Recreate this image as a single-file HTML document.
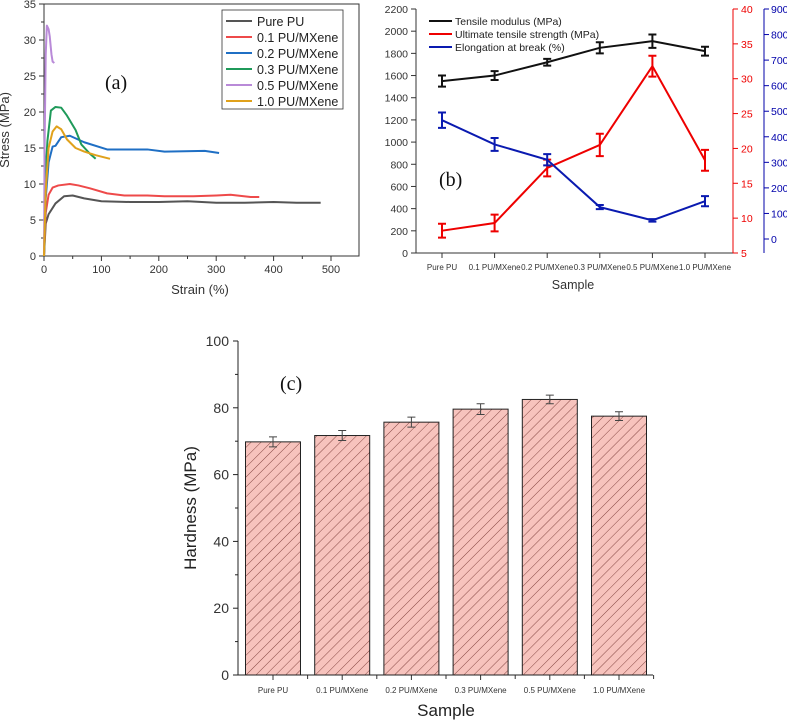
<!DOCTYPE html>
<html><head><meta charset="utf-8">
<style>
body{margin:0;background:#fff;}
svg{display:block;font-family:"Liberation Sans",sans-serif;}
</style></head>
<body>
<svg id="root" width="787" height="721" viewBox="0 0 787 721" xmlns="http://www.w3.org/2000/svg">
<defs>
<pattern id="hatch" patternUnits="userSpaceOnUse" width="7" height="7" patternTransform="rotate(45)">
<rect width="7" height="7" fill="#f7c3bd"/>
<line x1="0" y1="0" x2="0" y2="7" stroke="#7a3a36" stroke-width="0.9"/>
</pattern>
</defs>
<g id="pa"></g>
<g id="pb"></g>
<g id="pc"></g>
</svg>
<script>
// ---------- Panel (a) data ----------
const aNames = ["Pure PU","0.1 PU/MXene","0.2 PU/MXene","0.3 PU/MXene","0.5 PU/MXene","1.0 PU/MXene"];
const aColors = ["#555555","#ee4a4a","#1f6fc4","#1f9a5a","#b98ad8","#e0a11b"];
const aStrain0 = [0,3,8,20,35,50,70,100,150,200,250,300,350,400,440,482];
const aStress0 = [0,4.5,5.8,7.3,8.3,8.4,8,7.6,7.5,7.5,7.6,7.4,7.4,7.5,7.4,7.4];
const aStrain1 = [0,3,8,15,25,45,60,80,110,140,180,210,260,300,325,360,375];
const aStress1 = [0,6,8.5,9.5,9.8,10,9.8,9.4,8.7,8.4,8.4,8.3,8.3,8.4,8.5,8.2,8.2];
const aStrain2 = [0,3,8,15,20,30,45,70,110,180,210,280,305];
const aStress2 = [0,8,13,15.2,15.3,16.5,16.7,15.8,14.8,14.8,14.5,14.6,14.3];
const aStrain3 = [0,3,6,12,20,30,40,55,65,80,90];
const aStress3 = [0,12,16,20.2,20.7,20.6,19.5,17.5,15.5,14.2,13.5];
const aStrain4 = [0,1,3,5,8,10,13,15,18];
const aStress4 = [0,15,28,32,31.5,30.5,28,27,26.8];
const aStrain5 = [0,3,8,15,22,30,40,55,70,90,115];
const aStress5 = [0,9,15,17.3,18,17.6,16.2,15,14.5,14,13.5];
const aXTicks = [0,100,200,300,400,500];
const aYTicks = [0,5,10,15,20,25,30,35];
// ---------- Panel (b) data ----------
const bCats = ["Pure PU","0.1 PU/MXene","0.2 PU/MXene","0.3 PU/MXene","0.5 PU/MXene","1.0 PU/MXene"];
const bModulus = [1550,1600,1720,1850,1910,1820];
const bModulusErr = [50,40,30,50,60,40];
const bUTS = [8.2,9.3,17.2,20.5,31.8,18.3];
const bUTSErr = [1,1.2,1.2,1.6,1.5,1.5];
const bElong = [465,370,310,125,73,148];
const bElongErr = [30,25,22,8,5,20];
const bLeftTicks = [0,200,400,600,800,1000,1200,1400,1600,1800,2000,2200];
const bRedTicks = [5,10,15,20,25,30,35,40];
const bBlueTicks = [0,100,200,300,400,500,600,700,800,900];
// ---------- Panel (c) data ----------
const cCats = ["Pure PU","0.1 PU/MXene","0.2 PU/MXene","0.3 PU/MXene","0.5 PU/MXene","1.0 PU/MXene"];
const cHard = [69.8,71.7,75.7,79.6,82.5,77.5];
const cErr = [1.5,1.5,1.5,1.6,1.3,1.3];
const cYTicks = [0,20,40,60,80,100];

const NS="http://www.w3.org/2000/svg";
function mk(parent,tag,attrs,text){const e=document.createElementNS(NS,tag);for(const k in attrs)e.setAttribute(k,attrs[k]);if(text!==undefined)e.textContent=text;parent.appendChild(e);return e;}

// ===== Panel A =====
(function(){
const g=document.getElementById('pa');
const x=v=>44+v*(331-44)/500, y=v=>256-v*(256-4)/35;
const strains=[aStrain0,aStrain1,aStrain2,aStrain3,aStrain4,aStrain5];
const stresses=[aStress0,aStress1,aStress2,aStress3,aStress4,aStress5];
const frame=mk(g,'rect',{x:44,y:4,width:315,height:252,fill:'none',stroke:'#333','stroke-width':1});


aXTicks.forEach(t=>{mk(g,'line',{x1:x(t),x2:x(t),y1:256,y2:261,stroke:'#333'});
 if(x(t+50)<359) mk(g,'line',{x1:x(t+50),x2:x(t+50),y1:256,y2:259,stroke:'#333'});
 const l=mk(g,'text',{x:x(t),y:273,'font-size':11,'text-anchor':'middle',fill:'#333'},t);
 });
aYTicks.forEach(t=>{mk(g,'line',{x1:39,x2:44,y1:y(t),y2:y(t),stroke:'#333'});
 if(t<35) mk(g,'line',{x1:41,x2:44,y1:y(t+2.5),y2:y(t+2.5),stroke:'#333'});
 const l=mk(g,'text',{x:36,y:y(t)+4,'font-size':11,'text-anchor':'end',fill:'#333'},t);
 });
const xt=mk(g,'text',{x:200,y:294,'font-size':13,'text-anchor':'middle',fill:'#333'},'Strain (%)');

const yt=mk(g,'text',{x:9,y:130,'font-size':13,'text-anchor':'middle',fill:'#333',transform:'rotate(-90 9 130)'},'Stress (MPa)');

strains.forEach((s,i)=>{
 const p=mk(g,'polyline',{points:s.map((v,j)=>x(v)+','+y(stresses[i][j])).join(' '),fill:'none',stroke:aColors[i],'stroke-width':2,'stroke-linejoin':'round'});
 
 
});
const lg=mk(g,'g',{});

mk(lg,'rect',{x:222,y:10,width:121,height:99,fill:'#fff',stroke:'#333','stroke-width':0.8});
aNames.forEach((n,i)=>{const yy=21+i*16;
 mk(lg,'line',{x1:226,x2:252,y1:yy,y2:yy,stroke:aColors[i],'stroke-width':2});
 const t=mk(lg,'text',{x:257,y:yy+5,'font-size':12.5,fill:'#222'},n);
 });
const pl=mk(g,'text',{x:105,y:89,'font-size':20,'font-family':'Liberation Serif, serif',fill:'#111'},'(a)');

})();

// ===== Panel B =====
(function(){
const g=document.getElementById('pb');
const cx=i=>442+i*52.6;
const yL=v=>253-v*(253-9)/2200, yR=v=>253-(v-5)*(253-9)/35, yB=v=>239-v*(239-9)/900;
mk(g,'line',{x1:416,x2:416,y1:9,y2:253,stroke:'#333'});
mk(g,'line',{x1:416,x2:733,y1:253,y2:253,stroke:'#333'});
mk(g,'line',{x1:733,x2:733,y1:9,y2:253,stroke:'#e00'});
mk(g,'line',{x1:764,x2:764,y1:9,y2:253,stroke:'#00a'});
bLeftTicks.forEach(t=>{mk(g,'line',{x1:411,x2:416,y1:yL(t),y2:yL(t),stroke:'#333'});
 const l=mk(g,'text',{x:408,y:yL(t)+4,'font-size':10.5,'text-anchor':'end',fill:'#333'},t);
 });
bRedTicks.forEach(t=>{mk(g,'line',{x1:733,x2:738,y1:yR(t),y2:yR(t),stroke:'#e00'});
 const l=mk(g,'text',{x:741,y:yR(t)+4,'font-size':10.5,fill:'#e00'},t);
 });
bBlueTicks.forEach(t=>{mk(g,'line',{x1:764,x2:769,y1:yB(t),y2:yB(t),stroke:'#00a'});
 const l=mk(g,'text',{x:771,y:yB(t)+4,'font-size':10.5,fill:'#00a'},t);
 });
bCats.forEach((c,i)=>{mk(g,'line',{x1:cx(i),x2:cx(i),y1:253,y2:258,stroke:'#333'});
 const l=mk(g,'text',{x:cx(i),y:270,'font-size':8,'text-anchor':'middle',fill:'#333'},c);
 });
const xt=mk(g,'text',{x:573,y:289,'font-size':12.5,'text-anchor':'middle',fill:'#333'},'Sample');

function series(vals,errs,fy,col,name){
 const p=mk(g,'polyline',{points:vals.map((v,i)=>cx(i)+','+fy(v)).join(' '),fill:'none',stroke:col,'stroke-width':2});
 
 vals.forEach((v,i)=>{const a=fy(v+errs[i]),b=fy(v-errs[i]),X=cx(i);
  const e=mk(g,'path',{d:`M${X},${a}V${b}M${X-4},${a}H${X+4}M${X-4},${b}H${X+4}`,stroke:col,'stroke-width':2,fill:'none'});
  });
}
series(bModulus,bModulusErr,yL,'#111','tensile-modulus-line');
series(bUTS,bUTSErr,yR,'#e00','uts-line');
series(bElong,bElongErr,yB,'#0a1ab0','elongation-line');
const ln=['Tensile modulus (MPa)','Ultimate tensile strength (MPa)','Elongation at break (%)'],lc=['#111','#e00','#0a1ab0'];
ln.forEach((n,i)=>{const yy=21+i*13;
 mk(g,'line',{x1:429,x2:452,y1:yy,y2:yy,stroke:lc[i],'stroke-width':2});
 const t=mk(g,'text',{x:455,y:yy+4,'font-size':10.5,fill:'#222'},n);
 });
const pl=mk(g,'text',{x:439,y:186,'font-size':20,'font-family':'Liberation Serif, serif',fill:'#111'},'(b)');

})();

// ===== Panel C =====
(function(){
const g=document.getElementById('pc');
const cx=i=>273+i*69.2, y=v=>675-v*(675-341)/100;
cCats.forEach((c,i)=>{
 const b=mk(g,'rect',{x:cx(i)-27.5,y:y(cHard[i]),width:55,height:675-y(cHard[i]),fill:'url(#hatch)',stroke:'#222','stroke-width':1});
 
 
 const a=y(cHard[i]+cErr[i]),d=y(cHard[i]-cErr[i]),X=cx(i);
 const e=mk(g,'path',{d:`M${X},${a}V${d}M${X-4},${a}H${X+4}M${X-4},${d}H${X+4}`,stroke:'#444','stroke-width':1,fill:'none'});
 
 mk(g,'line',{x1:X,x2:X,y1:675,y2:680,stroke:'#333'});
 mk(g,'line',{x1:X+34.6,x2:X+34.6,y1:675,y2:679,stroke:'#333'});
 const l=mk(g,'text',{x:X,y:693,'font-size':8,'text-anchor':'middle',fill:'#333'},c);
 
});
mk(g,'line',{x1:238,x2:238,y1:341,y2:675,stroke:'#222'});
mk(g,'line',{x1:238,x2:653,y1:675,y2:675,stroke:'#222'});
cYTicks.forEach(t=>{mk(g,'line',{x1:233,x2:238,y1:y(t),y2:y(t),stroke:'#222'});
 if(t<100) mk(g,'line',{x1:235,x2:238,y1:y(t+10),y2:y(t+10),stroke:'#222'});
 const l=mk(g,'text',{x:229,y:y(t)+5,'font-size':14,'text-anchor':'end',fill:'#333'},t);
 });
const xt=mk(g,'text',{x:446,y:716,'font-size':17,'text-anchor':'middle',fill:'#222'},'Sample');

const yt=mk(g,'text',{x:196,y:508,'font-size':17,'text-anchor':'middle',fill:'#222',transform:'rotate(-90 196 508)'},'Hardness (MPa)');

const pl=mk(g,'text',{x:280,y:390,'font-size':20,'font-family':'Liberation Serif, serif',fill:'#111'},'(c)');

})();
</script>
</body></html>
